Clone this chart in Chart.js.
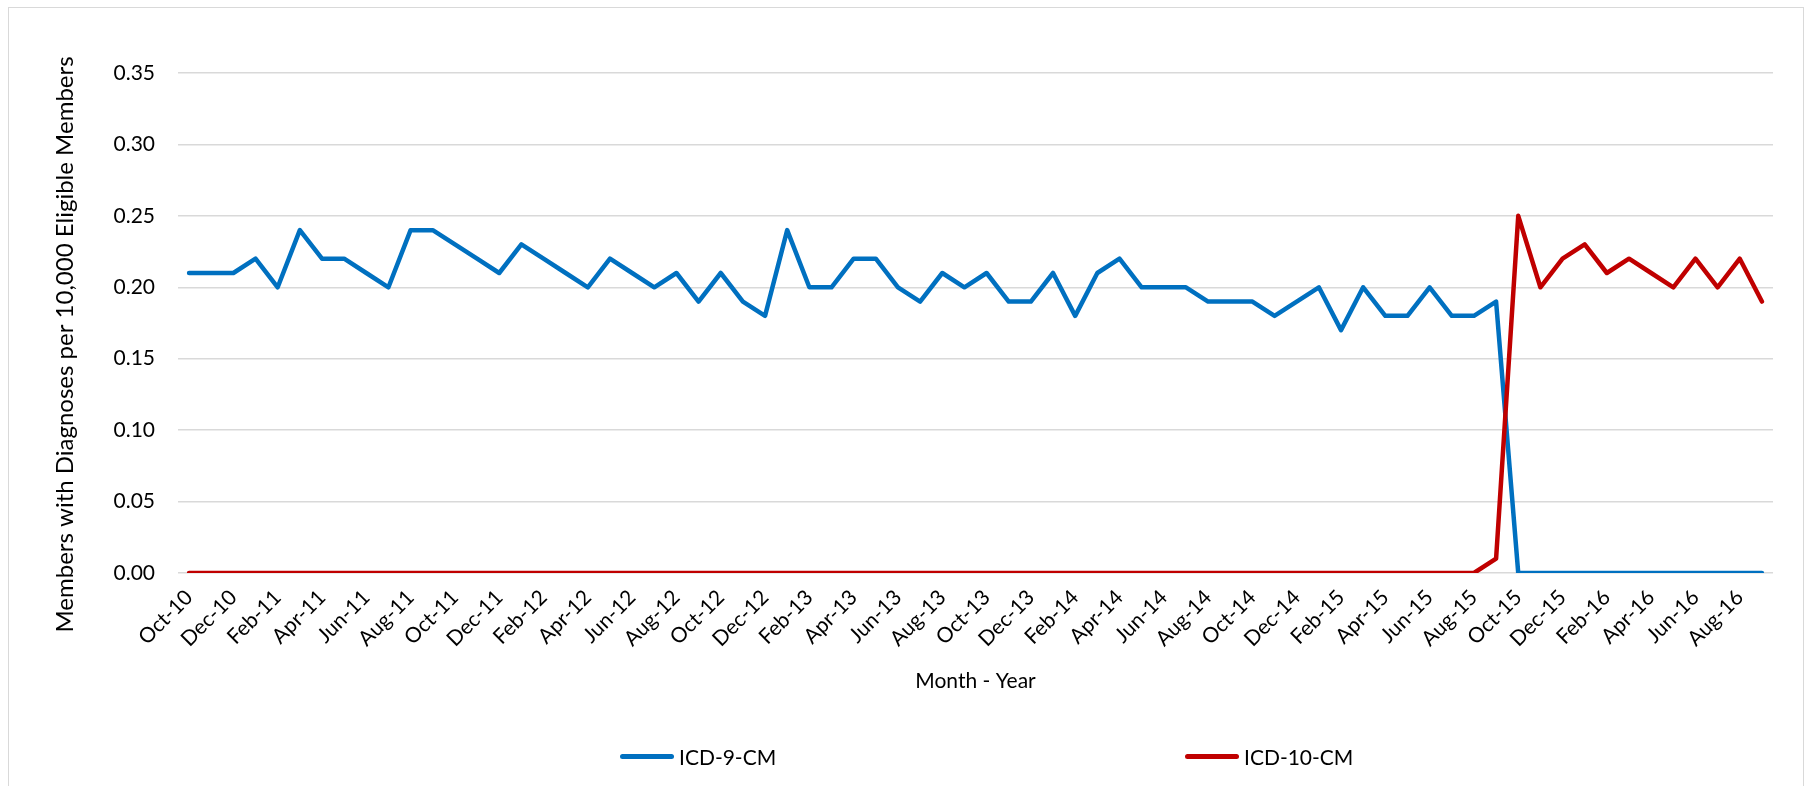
<!DOCTYPE html>
<html>
<head>
<meta charset="utf-8">
<script src="https://cdn.jsdelivr.net/npm/chart.js@4.4.1/dist/chart.umd.min.js"></script>
<style>
  html, body { margin: 0; padding: 0; background: #fff; overflow: hidden; }
  body { width: 1804px; height: 786px; position: relative; font-family: Lato, sans-serif; }
  #frame { position: absolute; left: 8px; top: 7px; width: 1794px; height: 900px; border: 1px solid #d9d9d9; }
  #myChart { position: absolute; left: 0; top: 0; }
  .legend-item { position: absolute; top: 744px; height: 24px; display: flex; align-items: center; font-size: 21px; color: #000; }
  .legend-line { width: 54px; height: 5px; border-radius: 3px; margin-right: 5px; }
</style>
</head>
<body>
<div id="frame"></div>
<canvas id="myChart" width="1804" height="786"></canvas>
<div class="legend-item" style="left: 620px;"><span class="legend-line" style="background: #0070c0;"></span>ICD-9-CM</div>
<div class="legend-item" style="left: 1185px;"><span class="legend-line" style="background: #c00000;"></span>ICD-10-CM</div>
<script>
// months shown on the x axis
var months = [
    'Oct-10', 'Nov-10', 'Dec-10', 'Jan-11', 'Feb-11', 'Mar-11', 'Apr-11', 'May-11', 'Jun-11', 'Jul-11', 'Aug-11', 'Sep-11',
    'Oct-11', 'Nov-11', 'Dec-11', 'Jan-12', 'Feb-12', 'Mar-12', 'Apr-12', 'May-12', 'Jun-12', 'Jul-12', 'Aug-12', 'Sep-12',
    'Oct-12', 'Nov-12', 'Dec-12', 'Jan-13', 'Feb-13', 'Mar-13', 'Apr-13', 'May-13', 'Jun-13', 'Jul-13', 'Aug-13', 'Sep-13',
    'Oct-13', 'Nov-13', 'Dec-13', 'Jan-14', 'Feb-14', 'Mar-14', 'Apr-14', 'May-14', 'Jun-14', 'Jul-14', 'Aug-14', 'Sep-14',
    'Oct-14', 'Nov-14', 'Dec-14', 'Jan-15', 'Feb-15', 'Mar-15', 'Apr-15', 'May-15', 'Jun-15', 'Jul-15', 'Aug-15', 'Sep-15',
    'Oct-15', 'Nov-15', 'Dec-15', 'Jan-16', 'Feb-16', 'Mar-16', 'Apr-16', 'May-16', 'Jun-16', 'Jul-16', 'Aug-16', 'Sep-16'
];

// ICD-9-CM members with diagnoses per 10,000
var icd9 = [
    0.21, 0.21, 0.21, 0.22, 0.20, 0.24, 0.22, 0.22, 0.21, 0.20, 0.24, 0.24,
    0.23, 0.22, 0.21, 0.23, 0.22, 0.21, 0.20, 0.22, 0.21, 0.20, 0.21, 0.19,
    0.21, 0.19, 0.18, 0.24, 0.20, 0.20, 0.22, 0.22, 0.20, 0.19, 0.21, 0.20,
    0.21, 0.19, 0.19, 0.21, 0.18, 0.21, 0.22, 0.20, 0.20, 0.20, 0.19, 0.19,
    0.19, 0.18, 0.19, 0.20, 0.17, 0.20, 0.18, 0.18, 0.20, 0.18, 0.18, 0.19,
    0.00, 0.00, 0.00, 0.00, 0.00, 0.00, 0.00, 0.00, 0.00, 0.00, 0.00, 0.00
];

// ICD-10-CM members with diagnoses per 10,000
var icd10 = [
    0.00, 0.00, 0.00, 0.00, 0.00, 0.00, 0.00, 0.00, 0.00, 0.00, 0.00, 0.00,
    0.00, 0.00, 0.00, 0.00, 0.00, 0.00, 0.00, 0.00, 0.00, 0.00, 0.00, 0.00,
    0.00, 0.00, 0.00, 0.00, 0.00, 0.00, 0.00, 0.00, 0.00, 0.00, 0.00, 0.00,
    0.00, 0.00, 0.00, 0.00, 0.00, 0.00, 0.00, 0.00, 0.00, 0.00, 0.00, 0.00,
    0.00, 0.00, 0.00, 0.00, 0.00, 0.00, 0.00, 0.00, 0.00, 0.00, 0.00, 0.01,
    0.25, 0.20, 0.22, 0.23, 0.21, 0.22, 0.21, 0.20, 0.22, 0.20, 0.22, 0.19
];

// y axis range
var yMin = 0;
var yMax = 0.35;
var yStep = 0.05;

window.onload = function() {
    var ctx = document.getElementById('myChart').getContext('2d');
    var myChart = new Chart(ctx, {
        type: 'line',
        data: {
            labels: months,
            datasets: [{
                label: 'ICD-9-CM',
                data: icd9,
                borderColor: '#0070c0',
                backgroundColor: '#0070c0',
                borderWidth: 4.5,
                borderJoinStyle: 'round',
                borderCapStyle: 'round',
                pointRadius: 0,
                tension: 0,
                order: 1
            }, {
                label: 'ICD-10-CM',
                data: icd10,
                borderColor: '#c00000',
                backgroundColor: '#c00000',
                borderWidth: 4.5,
                borderJoinStyle: 'round',
                borderCapStyle: 'round',
                pointRadius: 0,
                tension: 0,
                order: 0
            }]
        },
        options: {
            responsive: false,
            animation: false,
            devicePixelRatio: 1,
            layout: {
                padding: { left: 0, top: 73, right: 31, bottom: 86 }
            },
            plugins: {
                legend: { display: false },
                tooltip: { enabled: false }
            },
            scales: {
                x: {
                    offset: true,
                    grid: { display: false, drawTicks: false },
                    border: { display: false },
                    ticks: {
                        autoSkip: false,
                        minRotation: 45,
                        maxRotation: 45,
                        padding: 12,
                        color: '#000',
                        font: { family: 'Lato', size: 21 },
                        callback: function(value, index) {
                            return index % 2 === 0 ? months[index] : '';
                        }
                    },
                    title: {
                        display: true,
                        text: 'Month - Year',
                        color: '#000',
                        font: { family: 'Lato', size: 21 },
                        padding: { top: 0, bottom: 6 }
                    },
                    afterFit: function(scale) {
                        scale.width = scale.width;
                        scale.height = 127;
                    }
                },
                y: {
                    min: yMin,
                    max: yMax,
                    grid: { color: '#d9d9d9', lineWidth: 1.5, drawTicks: false },
                    border: { display: false },
                    ticks: {
                        stepSize: yStep,
                        padding: 23,
                        color: '#000',
                        font: { family: 'Lato', size: 21 },
                        callback: function(value) {
                            return value.toFixed(2);
                        }
                    },
                    title: {
                        display: true,
                        // trailing spaces nudge the centred title a little lower, like excel does
                        text: 'Members with Diagnoses per 10,000 Eligible Members       ',
                        color: '#000',
                        font: { family: 'Lato', size: 24 },
                        padding: { top: 51, bottom: 0 }
                    },
                    afterFit: function(scale) {
                        scale.width = 178;
                    }
                }
            }
        }
    });
};
</script>
</body>
</html>
